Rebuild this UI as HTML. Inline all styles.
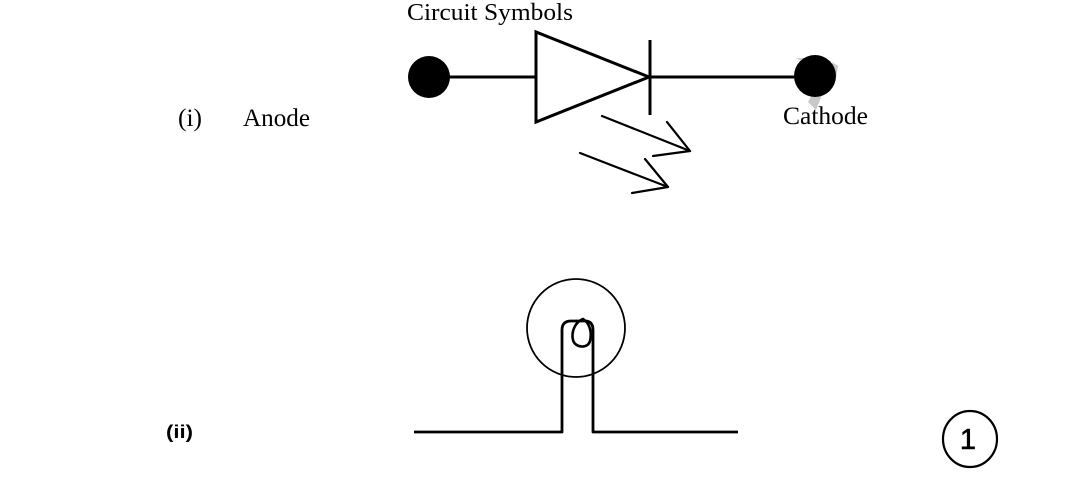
<!DOCTYPE html>
<html>
<head>
<meta charset="utf-8">
<style>
  html, body { margin:0; padding:0; background:#fff; }
  body { width:1069px; height:478px; overflow:hidden; }
  svg { display:block; }
</style>
</head>
<body>
<svg width="1069" height="478" viewBox="0 0 1069 478" xmlns="http://www.w3.org/2000/svg">
  <rect width="1069" height="478" fill="#fff"/>

  <!-- Title -->
  <text x="407" y="20" font-family="Liberation Serif, serif" font-size="24" textLength="166" lengthAdjust="spacingAndGlyphs" fill="#000">Circuit Symbols</text>

  <!-- Row (i) labels -->
  <text x="178" y="126" font-family="Liberation Serif, serif" font-size="25" textLength="24" lengthAdjust="spacingAndGlyphs" fill="#000">(i)</text>
  <text x="243" y="126" font-family="Liberation Serif, serif" font-size="25" textLength="67" lengthAdjust="spacingAndGlyphs" fill="#000">Anode</text>

  <!-- faint gray marks behind cathode dot -->
  <path d="M796,58 L804,58 L812,66 Z" fill="#c8c8c8"/>
  <path d="M812,95 L822,95 L816,110 L808,102 Z" fill="#c8c8c8"/>
  <path d="M832,62 L838,66 L836,78 Z" fill="#c8c8c8"/>

  <text x="783" y="124" font-family="Liberation Serif, serif" font-size="25" textLength="85" lengthAdjust="spacingAndGlyphs" fill="#000">Cathode</text>

  <!-- Diode -->
  <circle cx="429" cy="77" r="21" fill="#000"/>
  <circle cx="815" cy="76" r="21" fill="#000"/>
  <line x1="440" y1="77" x2="535" y2="77" stroke="#000" stroke-width="3"/>
  <line x1="649" y1="77" x2="805" y2="77" stroke="#000" stroke-width="3"/>
  <polygon points="536,32 536,122 649,77" fill="none" stroke="#000" stroke-width="3" stroke-linejoin="miter"/>
  <line x1="650" y1="40" x2="650" y2="115" stroke="#000" stroke-width="3"/>

  <!-- Light emission arrows -->
  <g stroke="#000" stroke-width="2.2" fill="none" stroke-linecap="round" stroke-linejoin="round">
    <line x1="602" y1="116" x2="690" y2="151"/>
    <polyline points="667,122 690,151 653,156"/>
    <line x1="580" y1="153" x2="668" y2="187"/>
    <polyline points="645,159 668,187 632,193"/>
  </g>

  <!-- Row (ii) -->
  <text x="166" y="438" font-family="Liberation Sans, sans-serif" font-size="18" font-weight="bold" textLength="27" lengthAdjust="spacingAndGlyphs" fill="#000">(ii)</text>

  <!-- Lamp -->
  <circle cx="576" cy="328" r="49" fill="none" stroke="#000" stroke-width="1.8"/>
  <path d="M414,432 L562,432 L562,330 Q562,321 571,321 L585,321 Q593,321 593,330 L593,432 L738,432"
        fill="none" stroke="#000" stroke-width="2.8" stroke-linejoin="round"/>
  <path d="M583,319 C575,322 571,332 573,340 C575,348 588,349 590,341 C592,333 590,323 583,319 Z"
        fill="none" stroke="#000" stroke-width="2.6"/>

  <!-- Circled 1 -->
  <ellipse cx="970" cy="439" rx="27" ry="28" fill="none" stroke="#000" stroke-width="2.2"/>
  <text x="968" y="449" text-anchor="middle" font-family="Liberation Sans, sans-serif" font-size="29" stroke="#000" stroke-width="0.6" fill="#000">1</text>
</svg>
</body>
</html>
